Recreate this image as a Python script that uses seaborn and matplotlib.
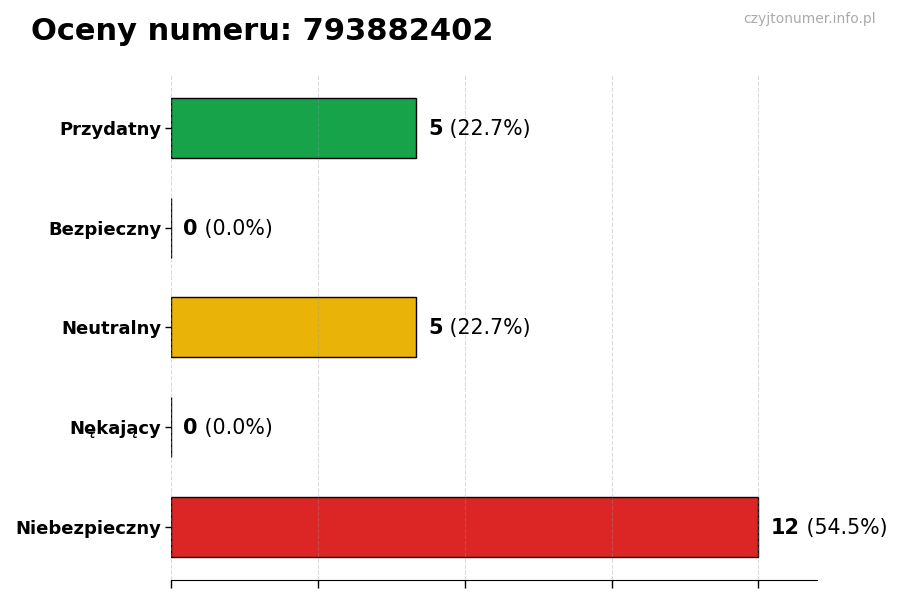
import matplotlib
matplotlib.use("Agg")
import matplotlib.pyplot as plt
import seaborn as sns
import pandas as pd

categories = ["Przydatny", "Bezpieczny", "Neutralny", "Nękający", "Niebezpieczny"]
counts = [5, 0, 5, 0, 12]
colors = ["#16a34a", "#9ca3af", "#eab308", "#7f1d1d", "#dc2626"]
title = "Oceny numeru: 793882402"
watermark = "czyjtonumer.info.pl"

total = sum(counts)
df = pd.DataFrame({"cat": categories, "count": counts})

sns.set_style("white")
plt.rcParams["font.family"] = ["DejaVu Sans"]
plt.rcParams["text.color"] = "black"
plt.rcParams["xtick.color"] = "black"
plt.rcParams["ytick.color"] = "black"

fig = plt.figure(figsize=(9, 6), dpi=100)
ax = fig.add_axes([0.19, 0.0333, 0.718, 0.842])

sns.barplot(data=df, x="count", y="cat", hue="cat", palette=colors,
            orient="h", width=0.6, edgecolor="black", linewidth=1,
            saturation=1, legend=False, ax=ax, zorder=2)

ax.set_xlim(0, max(counts) * 1.1)
ax.set_ylim(len(categories) - 0.47, -0.53)
ax.set_xticks([0, 3, 6, 9, 12])
ax.set_xticklabels([])
ax.set_axisbelow(False)
ax.grid(axis="x", linestyle="--", color="#999999", alpha=0.35, linewidth=0.8, zorder=3)
for s in ["top", "right", "left"]:
    ax.spines[s].set_visible(False)
ax.spines["bottom"].set_color("black")
ax.tick_params(axis="x", length=6, width=1, color="black", bottom=True)
ax.tick_params(axis="y", length=4, width=1, color="black", left=True, pad=3)
ax.set_xlabel("")
ax.set_ylabel("")
for lab in ax.get_yticklabels():
    lab.set_fontweight("bold")
    lab.set_fontsize(13)
    lab.set_color("black")

for i, v in enumerate(counts):
    pct = 100.0 * v / total
    t = ax.text(v + 0.25, i + 0.01, f"{v}", va="center", ha="left",
                fontsize=15, fontweight="bold", color="black")
    ax.annotate(f" ({pct:.1f}%)", xy=(1, 0.5), xycoords=t,
                va="center", ha="left", fontsize=14.8, color="black")

fig.text(0.034, 0.947, title, fontsize=22, fontweight="bold", ha="left",
         va="center", color="black")
fig.text(0.973, 0.969, watermark, fontsize=10, color="#aaaaaa", ha="right", va="center")

fig.savefig("out.png", dpi=100)
